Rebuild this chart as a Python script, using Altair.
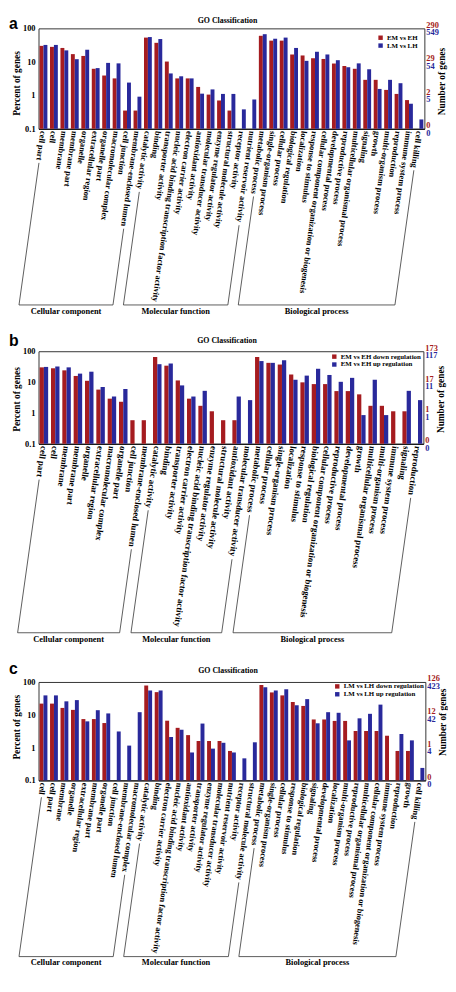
import math
import altair as alt

SERIF = "Liberation Serif"
SANS = "Liberation Sans"
RED = "#A51C20"
BLUE = "#29299B"
INK = "#000000"
FRAME = "#333333"

TICK_VALUES = [100, 10, 1, 0.1]
LEFT_LABELS = ["100", "10", "1", "0.1"]
GROUPS = ["Cellular component", "Molecular function", "Biological process"]
Y_TITLE = "Percent of genes"
R_TITLE = "Number of genes"
CHART_TITLE = "GO Classification"

# ---------------- panel a ----------------
A_CATS = ["cell part", "cell", "membrane", "membrane part", "organelle", "extracellular region",
          "organelle part", "macromolecular complex", "cell junction", "membrane-enclosed lumen",
          "catalytic activity", "binding", "transporter activity",
          "nucleic acid binding transcription factor activity", "electron carrier activity",
          "antioxidant activity", "molecular transducer activity", "enzyme regulator activity",
          "structural molecule activity", "receptor activity", "nutrient reservoir activity",
          "metabolic process", "single-organism process", "cellular process", "biological regulation",
          "localization", "response to stimulus", "cellular component organization or biogenesis",
          "developmental process", "reproductive process", "multicellular organismal process",
          "signaling", "growth", "multi-organism process", "reproduction", "immune system process",
          "cell killing"]
A_RED = [30, 28, 26, 17, 15, 6.2, 3.9, 3.2, 0.35, 0.35,
         53, 37, 10.2, 3.2, 3.2, 1.78, 1.05, 0.7, 0.35, None, None,
         60, 43, 43, 16.6, 15.5, 12.8, 12.2, 8.9, 7.5, 6.2, 2.9, 2.9, 1.45, 1.1, 0.72, None]
A_BLUE = [32, 32, 22, 12, 23, 6.5, 9.3, 9, 2.4, 0.91,
          55, 48, 4.5, 3.7, 3.2, 1.12, 1.5, 1.1, 1.1, 0.38, 0.75,
          67, 49, 53, 26, 10.7, 20, 16.6, 11.2, 6.9, 9, 6.0, 1.55, 2.9, 2.3, 0.56, 0.19]
A_SERIES = ["EM vs EH", "LM vs LH"]
A_RIGHT_RED = ["290", "29", "2", "0"]
A_RIGHT_BLUE = ["549", "54", "5", "0"]
A_SIZES = [10, 11, 16]

# ---------------- panel b ----------------
B_CATS = ["cell part", "cell", "membrane", "membrane part", "organelle", "extracellular region",
          "macromolecular complex", "organelle part", "cell junction", "membrane-enclosed lumen",
          "catalytic activity", "binding", "transporter activity", "electron carrier activity",
          "nucleic acid binding transcription factor activity", "enzyme regulator activity",
          "structural molecule activity", "antioxidant activity", "molecular transducer activity",
          "metabolic process", "cellular process", "single-organism process", "localization",
          "response to stimulus", "biological regulation",
          "cellular component organization or biogenesis", "reproductive process",
          "developmental process", "growth", "multicellular organismal process",
          "multi-organism process", "immune system process", "signaling", "reproduction"]
B_RED = [30, 28, 24, 15.8, 11, 5.7, 2.9, 2.3, 0.58, 0.58,
         65, 34, 11.3, 2.9, 1.7, 1.13, 0.58, 0.58, None,
         65, 42, 37, 17.5, 9.8, 8.6, 8.6, 5.1, 5.1, 4.0, 1.7, 1.7, 1.13, 1.13, None]
B_BLUE = [31, 32, 30, 18.8, 21.7, 6.9, 3.4, 6.0, None, None,
          38, 40, 7.8, 3.4, 5.2, None, None, 3.4, 2.6,
          48, 42, 51, 11.9, 16.2, 27, 17, 10.2, 13.7, 0.85, 11.9, 0.85, None, 5.2, 2.6]
B_SERIES = ["EM vs EH down regulation", "EM vs EH up regulation"]
B_RIGHT_RED = ["173", "17", "1", "0"]
B_RIGHT_BLUE = ["117", "11", "1", "0"]
B_SIZES = [10, 9, 15]

# ---------------- panel c ----------------
C_CATS = ["cell", "cell part", "membrane", "organelle", "extracellular region", "membrane part",
          "organelle part", "cell junction", "membrane-enclosed lumen", "macromolecular complex",
          "catalytic activity", "binding", "electron carrier activity",
          "nucleic acid binding transcription factor activity", "antioxidant activity",
          "transporter activity", "enzyme regulator activity", "molecular transducer activity",
          "nutrient reservoir activity", "receptor activity", "structural molecule activity",
          "metabolic process", "single-organism process", "cellular process", "response to stimulus",
          "biological regulation", "signaling", "developmental process", "localization",
          "multi-organism process", "reproductive process", "multicellular organismal process",
          "cellular component organization or biogenesis", "immune system process",
          "reproduction", "growth", "cell killing"]
C_RED = [21.9, 21.9, 16.2, 14.1, 7.4, 7.4, 5.6, None, None, None,
         78, 49, 6.6, 4.0, 2.4, 1.59, 1.59, 1.59, 0.79, None, None,
         81, 48, 39, 24.5, 18.6, 7.2, 7.2, 6.5, 6.5, 3.2, 3.2, 3.2, 2.3, 0.79, 0.79, None]
C_BLUE = [39, 39, 25.7, 28, 6.3, 13.8, 11, 3.1, 1.15, 12,
          55, 55, 2.1, 3.5, 0.71, 5.4, 0.93, 1.4, 0.71, 0.47, 1.45,
          69, 55, 60, 19.5, 30, 5.5, 12, 11.5, 1.66, 7.8, 10.7, 20.4, None, 2.6, 1.66, 0.24]
C_SERIES = ["LM vs LH down regulation", "LM vs LH up regulation"]
C_RIGHT_RED = ["126", "12", "1", "0"]
C_RIGHT_BLUE = ["423", "42", "4", "0"]
C_SIZES = [10, 11, 16]

# ---------------- layout helpers ----------------
PAD_IN, PAD_OUT = 0.25, 0.1
ANGLE = 98
COS, SIN = math.cos(math.radians(ANGLE)), math.sin(math.radians(ANGLE))
LABEL_PAD = 2

# Times/Liberation Serif Bold advance widths (per 1000 em)
TIMES_BOLD = {" ": 250, "-": 333, "a": 500, "b": 556, "c": 444, "d": 556, "e": 444, "f": 333,
              "g": 500, "h": 556, "i": 278, "j": 333, "k": 556, "l": 278, "m": 833, "n": 556,
              "o": 500, "p": 556, "q": 556, "r": 444, "s": 389, "t": 333, "u": 556, "v": 500,
              "w": 722, "x": 500, "y": 500, "z": 444}


def text_w(s, fs):
    return fs * sum(TIMES_BOLD.get(ch, 500) for ch in s) / 1000.0


def text_layer(rows, **mark):
    return alt.Chart(alt.Data(values=rows)).mark_text(font=SERIF, fontWeight="bold", **mark)


def panel(letter, cats, red, blue, series, right_red, right_blue, sizes, L):
    W, H, fs = L["w"], L["h"], L["fs"]
    rows = []
    for c, r, b in zip(cats, red, blue):
        if r is not None:
            rows.append({"cat": c, "series": series[0], "value": r})
        if b is not None:
            rows.append({"cat": c, "series": series[1], "value": b})

    yscale = alt.Scale(type="log", domain=[0.1, 100])
    bars = alt.Chart(alt.Data(values=rows)).mark_bar().encode(
        x=alt.X("cat:N", sort=cats,
                scale=alt.Scale(paddingInner=PAD_IN, paddingOuter=PAD_OUT),
                axis=alt.Axis(title=None, labelAngle=ANGLE, labelAlign="left",
                              labelBaseline="middle", labelFont=SERIF, labelFontWeight="bold",
                              labelFontSize=fs, labelColor=INK, labelPadding=LABEL_PAD,
                              labelLimit=400, labelOverlap=False, ticks=False,
                              domainColor=INK)),
        xOffset=alt.XOffset("series:N", sort=series,
                            scale=alt.Scale(paddingInner=0, paddingOuter=0)),
        y=alt.Y("value:Q", scale=yscale,
                axis=alt.Axis(title=None, labels=False, grid=False, ticks=False,
                              domainColor=INK)),
        y2=alt.datum(0.1),
        color=alt.Color("series:N",
                        scale=alt.Scale(domain=series, range=[RED, BLUE]),
                        legend=alt.Legend(title=None, orient="top-right", offset=L["leg"],
                                          padding=0, symbolType="square", symbolSize=20,
                                          symbolStrokeWidth=0, labelFont=SERIF,
                                          labelFontWeight="bold", labelFontSize=7,
                                          labelColor=INK, labelOffset=3, rowPadding=0,
                                          labelLimit=300)),
    )

    ll = [{"tick": t, "lab": s} for t, s in zip(TICK_VALUES, LEFT_LABELS)]
    rr = [{"tick": t, "lab": s} for t, s in zip(TICK_VALUES, right_red)]
    rb = [{"tick": t, "lab": s} for t, s in zip(TICK_VALUES, right_blue)]
    left_l = text_layer(ll, align="right", baseline="middle", fontSize=8.5, color=INK).encode(
        x=alt.value(-3), y=alt.Y("tick:Q", scale=yscale, axis=None), text="lab:N")
    right_r = text_layer(rr, align="left", baseline="alphabetic", dy=-0.5,
                         fontSize=8.5, color=RED).encode(
        x=alt.value(W + 2), y=alt.Y("tick:Q", scale=yscale, axis=None), text="lab:N")
    right_b = text_layer(rb, align="left", baseline="alphabetic", dy=7,
                         fontSize=8.5, color=BLUE).encode(
        x=alt.value(W + 2), y=alt.Y("tick:Q", scale=yscale, axis=None), text="lab:N")

    ytitle = text_layer([{"t": Y_TITLE}], angle=270, align="center", baseline="middle",
                        fontSize=9.5, color=INK).encode(
        text="t:N", x=alt.value(-21.5), y=alt.value(H / 2 + L["yt"]))
    rtitle = text_layer([{"t": R_TITLE}], angle=270, align="center", baseline="middle",
                        fontSize=9.5, color=INK).encode(
        text="t:N", x=alt.value(W + 18), y=alt.value(H / 2 + L["rt"]))
    title = text_layer([{"t": CHART_TITLE}], align="center", baseline="alphabetic",
                       fontSize=8, color=INK).encode(
        text="t:N", x=alt.value(W / 2 - 4), y=alt.value(L["ty"]))
    letter_l = alt.Chart(alt.Data(values=[{"t": letter}])).mark_text(
        font=SANS, fontWeight="bold", fontSize=16, align="left", baseline="alphabetic",
        color=INK).encode(text="t:N", x=alt.value(-30), y=alt.value(L["ly"]))

    # group brackets, anchored to the ends of the first / last category labels
    n = len(cats)
    step = W / (n - PAD_IN + 2 * PAD_OUT)
    bw = step * (1 - PAD_IN)

    def label_end(i):
        length = text_w(cats[i], fs) + 3
        cx = PAD_OUT * step + i * step + bw / 2
        return cx + length * COS, H + LABEL_PAD + length * SIN

    yb = H + L["br"]
    segs, glabs = [], []
    start = 0
    for g, sz in zip(GROUPS, sizes):
        x1, y1 = label_end(start)
        x2, y2 = label_end(start + sz - 1)
        xb1 = x1 + (yb - y1) / SIN * COS
        xb2 = x2 + (yb - y2) / SIN * COS
        segs += [{"x": x1, "y": y1, "x2": xb1, "y2": yb},
                 {"x": xb1, "y": yb, "x2": xb2, "y2": yb},
                 {"x": xb2, "y": yb, "x2": x2, "y2": y2}]
        glabs.append({"g": g, "x": (xb1 + xb2) / 2, "y": yb + 9})
        start += sz

    brackets = alt.Chart(alt.Data(values=segs)).mark_rule(color=FRAME, strokeWidth=0.8).encode(
        x=alt.X("x:Q", scale=None), x2="x2:Q", y=alt.Y("y:Q", scale=None), y2="y2:Q")
    group_text = text_layer(glabs, align="center", baseline="alphabetic", fontSize=8.5,
                            color=INK).encode(
        x=alt.X("x:Q", scale=None), y=alt.Y("y:Q", scale=None), text="g:N")

    return alt.layer(bars, left_l, right_r, right_b, ytitle, rtitle, title, letter_l, brackets,
                     group_text).properties(width=W, height=H)


LA = dict(w=392, h=102, fs=8.5, br=179, leg=6, yt=5, rt=3, ty=-5, ly=1)
LB = dict(w=391, h=94, fs=9, br=192, leg=2, yt=2, rt=2, ty=-8, ly=-5)
LC = dict(w=393, h=100, fs=8.5, br=179, leg=1, yt=-4, rt=-9, ty=-9, ly=-8)

pa = panel("a", A_CATS, A_RED, A_BLUE, A_SERIES, A_RIGHT_RED, A_RIGHT_BLUE, A_SIZES, LA)
pb = panel("b", B_CATS, B_RED, B_BLUE, B_SERIES, B_RIGHT_RED, B_RIGHT_BLUE, B_SIZES, LB)
pc = panel("c", C_CATS, C_RED, C_BLUE, C_SERIES, C_RIGHT_RED, C_RIGHT_BLUE, C_SIZES, LC)

RES = dict(x="independent", y="independent", color="independent", xOffset="independent")

inner = alt.vconcat(pb, pc, spacing=242, bounds="flush").resolve_scale(**RES)
chart = (alt.vconcat(pa, inner, spacing=226, bounds="flush")
         .resolve_scale(**RES)
         .properties(padding=0)
         .configure(padding=0)
         .configure_view(stroke=FRAME, strokeWidth=1))

chart.save("out.html", embed_options={"renderer": "svg", "actions": False})
